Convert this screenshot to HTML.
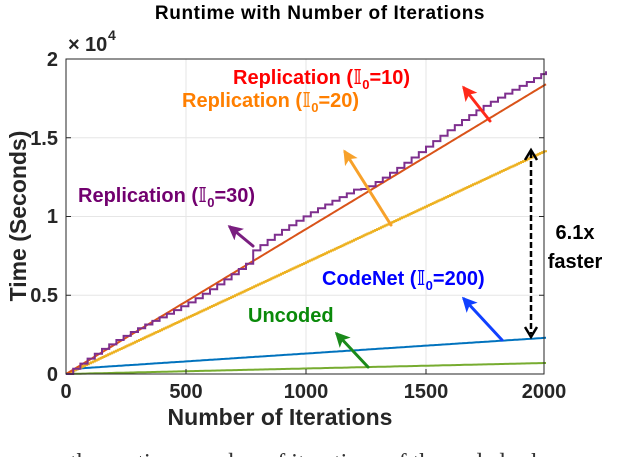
<!DOCTYPE html>
<html><head><meta charset="utf-8"><style>
html,body{margin:0;padding:0;background:#fff;width:640px;height:457px;overflow:hidden}
text{font-family:"Liberation Sans",Arial,sans-serif;font-weight:bold}
</style></head><body>
<svg id="s" width="640" height="457" xmlns="http://www.w3.org/2000/svg">
<defs>
<marker id="ah" markerWidth="5" markerHeight="5" refX="4" refY="2.5" orient="auto" markerUnits="strokeWidth"><path d="M0,0 L5,2.5 L0,5 L1.2,2.5 z" fill="context-stroke"/></marker>
</defs>
<text x="320" y="19" font-size="19" text-anchor="middle" fill="#000" letter-spacing="0.6">Runtime with Number of Iterations</text>
<g stroke="#e6e6e6" stroke-width="1">
<line x1="186" y1="59" x2="186" y2="374"/><line x1="306" y1="59" x2="306" y2="374"/><line x1="426" y1="59" x2="426" y2="374"/>
<line x1="66" y1="137.75" x2="544" y2="137.75"/><line x1="66" y1="216.5" x2="544" y2="216.5"/><line x1="66" y1="295.25" x2="544" y2="295.25"/>
</g>
<g id="series" fill="none" stroke-width="2"></g>
<rect x="66" y="59" width="478" height="315" fill="none" stroke="#262626" stroke-width="1"/>
<g stroke="#262626" stroke-width="1">
<line x1="186" y1="374" x2="186" y2="369"/><line x1="306" y1="374" x2="306" y2="369"/><line x1="426" y1="374" x2="426" y2="369"/>
<line x1="66" y1="137.75" x2="71" y2="137.75"/><line x1="66" y1="216.5" x2="71" y2="216.5"/><line x1="66" y1="295.25" x2="71" y2="295.25"/>
<line x1="539" y1="137.75" x2="544" y2="137.75"/><line x1="539" y1="216.5" x2="544" y2="216.5"/><line x1="539" y1="295.25" x2="544" y2="295.25"/>
</g>
<g font-size="20" fill="#262626">
<text x="66" y="398" text-anchor="middle">0</text><text x="186" y="398" text-anchor="middle">500</text><text x="306" y="398" text-anchor="middle">1000</text><text x="426" y="398" text-anchor="middle">1500</text><text x="544" y="398" text-anchor="middle">2000</text>
<text x="58" y="381" text-anchor="end">0</text><text x="58" y="302" text-anchor="end">0.5</text><text x="58" y="223" text-anchor="end">1</text><text x="58" y="145" text-anchor="end">1.5</text><text x="58" y="66" text-anchor="end">2</text>
</g>
<text x="68" y="51" font-size="20" fill="#262626" font-weight="normal">×</text><text x="85" y="51" font-size="20" fill="#262626">10</text><text x="108" y="40" font-size="14" fill="#262626">4</text>
<text x="280" y="425" font-size="23" text-anchor="middle" fill="#262626">Number of Iterations</text>
<text transform="translate(26,216) rotate(-90)" font-size="23" text-anchor="middle" fill="#262626">Time (Seconds)</text>
<g font-size="20">
<text x="233" y="84" fill="#ff0000">Replication (<tspan font-family="DejaVu Sans">𝕀</tspan><tspan font-size="13" dy="5">0</tspan><tspan dy="-5">=10)</tspan></text>
<text x="182" y="107" fill="#ff7f00">Replication (<tspan font-family="DejaVu Sans">𝕀</tspan><tspan font-size="13" dy="5">0</tspan><tspan dy="-5">=20)</tspan></text>
<text x="78" y="202" fill="#72006f">Replication (<tspan font-family="DejaVu Sans">𝕀</tspan><tspan font-size="13" dy="5">0</tspan><tspan dy="-5">=30)</tspan></text>
<text x="322" y="285" fill="#0000ff">CodeNet (<tspan font-family="DejaVu Sans">𝕀</tspan><tspan font-size="13" dy="5">0</tspan><tspan dy="-5">=200)</tspan></text>
<text x="248" y="322" fill="#0a8a0a">Uncoded</text>
<text x="575" y="239" fill="#000" text-anchor="middle">6.1x</text>
<text x="575" y="268" fill="#000" text-anchor="middle">faster</text>
</g>
<g stroke-width="3" fill="none" stroke-linecap="round">
<line x1="490" y1="121" x2="464" y2="88" stroke="#ff2a1a" marker-end="url(#ah)"/>
<line x1="391" y1="225" x2="345" y2="152" stroke="#f7a12a" marker-end="url(#ah)"/>
<line x1="253" y1="246" x2="230" y2="227" stroke="#7a1f80" marker-end="url(#ah)"/>
<line x1="502" y1="340" x2="464" y2="299" stroke="#1040ff" marker-end="url(#ah)"/>
<line x1="368" y1="367" x2="337" y2="334" stroke="#1a8a1a" marker-end="url(#ah)"/>
</g>
<line x1="531" y1="152" x2="531" y2="334" stroke="#000" stroke-width="2.5" stroke-dasharray="6,3"/>
<path d="M525,160 L531,150 L537,160 M525,327 L531,337 L537,327" stroke="#000" stroke-width="2.5" fill="none"/>
<text x="70" y="470" font-size="24" fill="#333" style="font-family:'Liberation Serif',serif;font-weight:normal">the runtime number of iterations of the coded schemes</text>
</svg>
<script>
var X=function(i){return 66+i*0.24},Y=function(v){return 374-v*315/20000};
var g=document.getElementById('series');
function add(d,c,w){var p=document.createElementNS('http://www.w3.org/2000/svg','path');p.setAttribute('d',d);p.setAttribute('stroke',c);p.setAttribute('stroke-width',w||2);p.setAttribute('fill','none');g.appendChild(p);}
function line(f,c,step,w){var d='';for(var i=0;i<=2000;i+=step){d+=(i?'L':'M')+X(i).toFixed(1)+','+Y(f(i)).toFixed(1);}add(d,c,w);}
line(function(i){return i*0.35},'#77ac30',10);
line(function(i){return i<60?i*6:360+(i-60)*1.0}, '#0072bd',10);
(function(){var d='M'+X(0)+','+Y(0);for(var i=0;i<2000;i+=8){d+='L'+X(i+8).toFixed(1)+','+Y(i*7.1).toFixed(1)+'L'+X(i+8).toFixed(1)+','+Y((i+8)*7.1).toFixed(1);}add(d,'#edb120',2);})();
line(function(i){return i*9.2},'#d95319',10);
(function(){var d='M'+X(0)+','+Y(0);var s=0;var i=0;
while(i<2000){var ni=i+30;if(ni>2000)ni=2000;var t=ni*9.2+ni*ni*0.0002+Math.sin(ni/120)*220+(ni>760?500:0)-(ni>1200?300:0);if(t<s)t=s+40;d+='L'+X(ni).toFixed(1)+','+Y(s).toFixed(1)+'L'+X(ni).toFixed(1)+','+Y(t).toFixed(1);s=t;i=ni;}
add(d,'#7e2f8e',2);})();
</script>
</body></html>
